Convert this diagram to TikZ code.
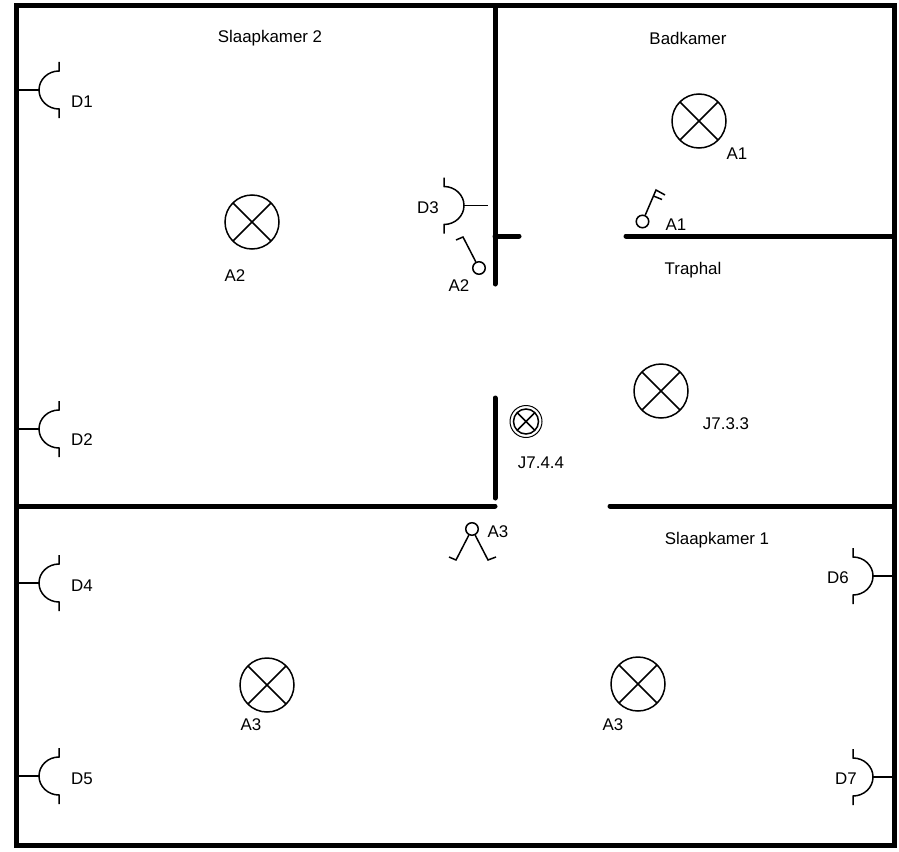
\documentclass[tikz,border=0pt]{standalone}
\usepackage{fontspec}
\setmainfont{Liberation Sans}
\usetikzlibrary{positioning}
\tikzset{
  wall/.style={line width=5pt,line cap=round},
  thin wire/.style={line width=1.5pt},
  label/.style={inner sep=0pt,font=\fontsize{16.9}{20}\selectfont},
  lamp/.style={draw,circle,line width=1.5pt,minimum size=54pt,inner sep=0pt,
    path picture={\draw[line width=1.5pt] (path picture bounding box.north west) -- (path picture bounding box.south east)
      (path picture bounding box.north east) -- (path picture bounding box.south west);}},
  smalllamp/.style={lamp,minimum size=25pt},
  knob/.style={draw,circle,line width=1.5pt,minimum size=12.5pt,inner sep=0pt},
  pics/outlet/.default=40,
  pics/outlet/.style={code={
    \draw[thin wire] (0,-28) -- (0,-19) arc (-90:-270:20 and 19) -- (0,28);
    \draw[thin wire] (-20,0) -- (-#1,0);
  }}
}
\begin{document}
\begin{tikzpicture}[x=1pt,y=-1pt]
    \useasboundingbox (0,0) rectangle (899,851);
    % walls
    \draw [wall,line cap=butt] (16.5,5.5) rectangle (894,845);
    \draw [wall] (495,6) -- (495,284);
    \draw [wall] (495,236) -- (519,236);
    \draw [wall] (626,236) -- (893,236);
    \draw [wall] (495,398) -- (495,498);
    \draw [wall] (17,506) -- (495,506);
    \draw [wall] (610,506) -- (893,506);
    % lamps
    \node [lamp] (lampbad) at (699,121) {};
    \node [lamp] (lampslk2) at (252,222) {};
    \node [lamp] (lamphal) at (661,391) {};
    \node [lamp] (lampslk1a) at (267,685) {};
    \node [lamp] (lampslk1b) at (638,684) {};
    \node [smalllamp] (lampstair) at (526,421.5) {};
    \node [draw,circle,line width=1pt,minimum size=32pt,inner sep=0pt] (lampring) at (lampstair) {};
    % outlets
    \pic at (59,90) {outlet};
    \pic at (59,429) {outlet};
    \pic at (59,583) {outlet};
    \pic at (59,776) {outlet};
    \pic [xscale=-1] at (444,205.5) {outlet=44};
    \pic [xscale=-1] at (853,576) {outlet};
    \pic [xscale=-1] at (853,777) {outlet};
    % switches
    \node [knob] (swbad) at (642.5,221.5) {};
    \coordinate (swbadtop) at (656,190);
    \draw [thin wire] (swbad) -- (swbadtop) -- (665,195);
    \draw [thin wire] (653.5,196) -- (662,199.5);
    \node [knob] (swslk) at (479,268) {};
    \coordinate (swslktop) at (463,237);
    \coordinate (swslkend) at (456,240);
    \draw [thin wire] (swslk) -- (swslktop) -- (swslkend);
    \node [knob] (swdbl) at (472,529) {};
    \coordinate (swdbll) at (456,560);
    \coordinate (swdbllend) at (449,557);
    \coordinate (swdblr) at (488,560);
    \coordinate (swdblrend) at (496,557);
    \draw [thin wire] (swdbl) -- (swdbll) -- (swdbllend);
    \draw [thin wire] (swdbl) -- (swdblr) -- (swdblrend);
    % texts
    \node [label] (roomslk2) at (270,38) {Slaapkamer 2};
    \node [label] (roombad) at (688,38) {Badkamer};
    \node [label] (roomhal) at (693,270) {Traphal};
    \node [label] (roomslk1) at (717,540) {Slaapkamer 1};
    \node [label] (txtd1) at (82,102) {D1};
    \node [label] (txtd2) at (82,440) {D2};
    \node [label] (txtd3) at (428,208) {D3};
    \node [label] (txtd4) at (82,586) {D4};
    \node [label] (txtd5) at (82,779) {D5};
    \node [label] (txtd6) at (838,578) {D6};
    \node [label] (txtd7) at (846,779) {D7};
    \node [label] (txta1) at (737,154) {A1};
    \node [label] (txta1s) at (676,225) {A1};
    \node [label] (txta2) at (235,276) {A2};
    \node [label] (txta2s) at (459,286) {A2};
    \node [label] (txtj3) at (726,424) {J7.3.3};
    \node [label] (txtj4) at (541,463) {J7.4.4};
    \node [label] (txta3s) at (498,532) {A3};
    \node [label] (txta3a) at (251,725) {A3};
    \node [label] (txta3b) at (613,725) {A3};
\end{tikzpicture}
\end{document}
